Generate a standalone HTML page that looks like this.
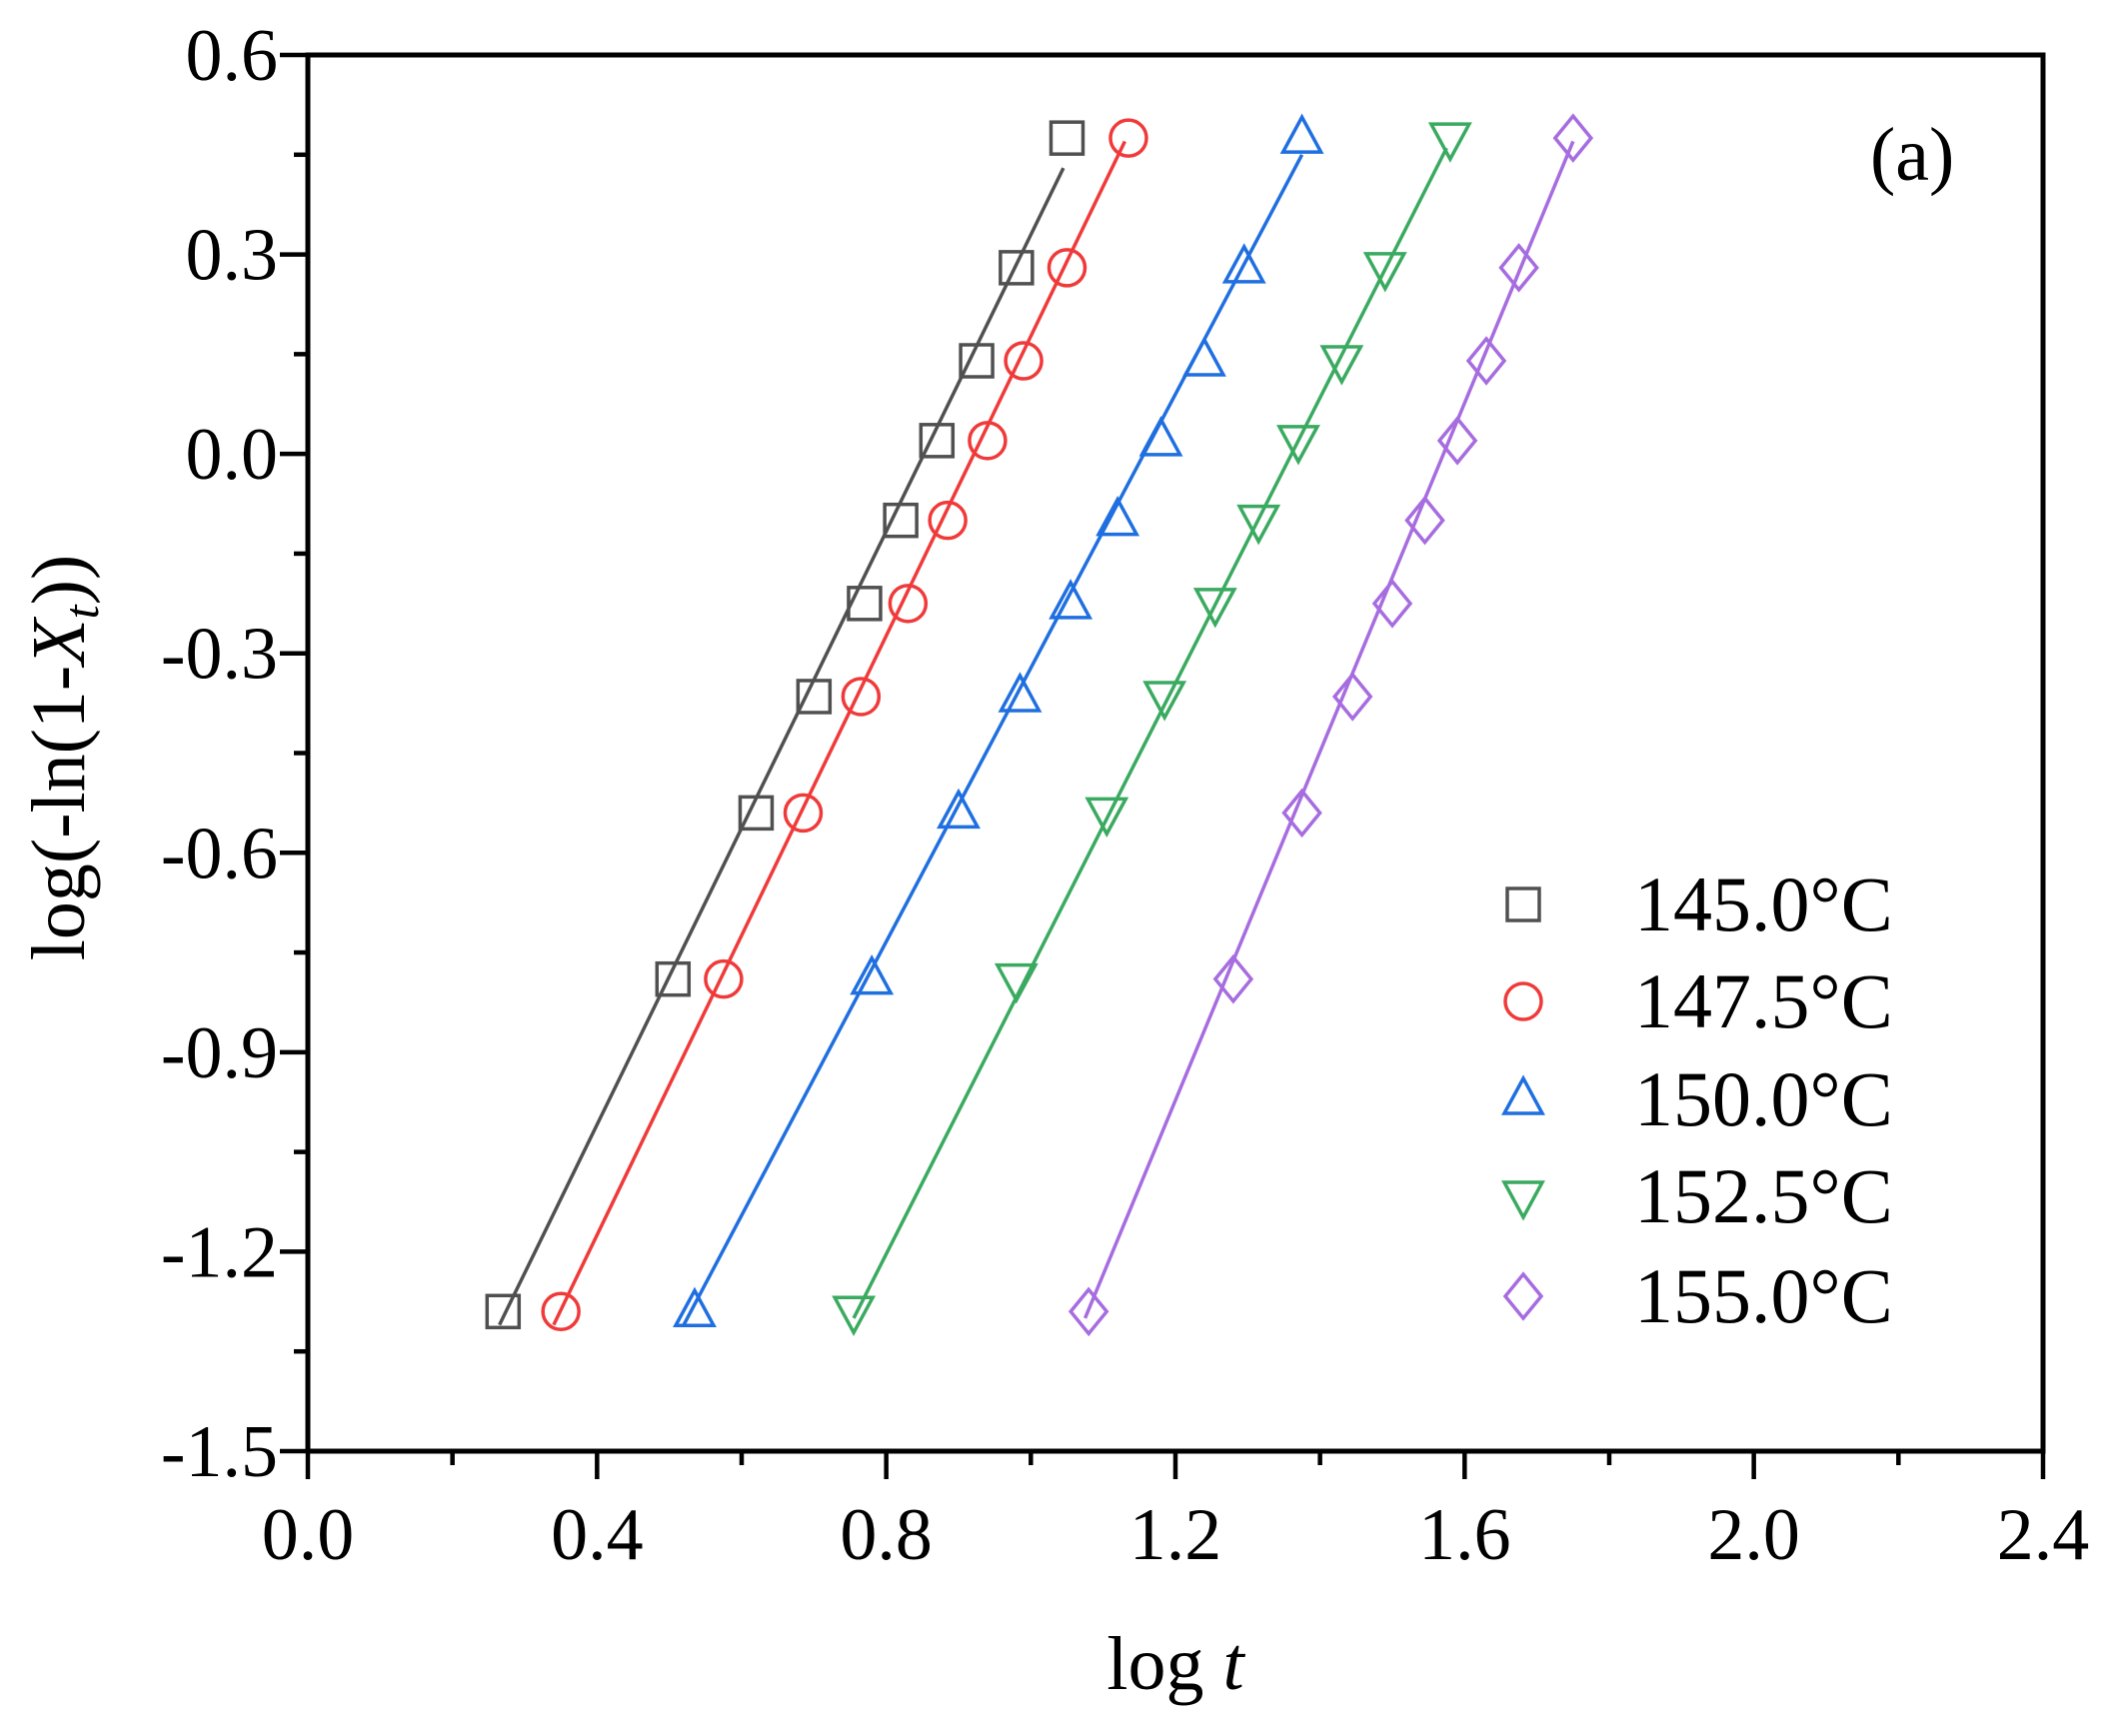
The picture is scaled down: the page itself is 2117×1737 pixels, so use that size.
<!DOCTYPE html>
<html><head><meta charset="utf-8"><style>
html,body{margin:0;padding:0;background:#fff;}
svg{display:block;font-family:"Liberation Serif",serif;}
</style></head><body>
<svg id="s" width="2117" height="1737" viewBox="0 0 2117 1737" xmlns="http://www.w3.org/2000/svg"></svg>
<script>
const s=document.getElementById('s');
const L=308,R=2044,T=55,B=1452;
const X=v=>L+v/2.4*(R-L), Y=v=>T+(0.6-v)/2.1*(B-T);
let h='';
h+=`<rect x="${L}" y="${T}" width="${R-L}" height="${B-T}" fill="none" stroke="#000" stroke-width="5"/>`;
for(let i=0;i<=12;i++){const v=i*0.2,x=X(v),len=i%2==0?28:14;
 h+=`<line x1="${x}" y1="${B}" x2="${x}" y2="${B+len}" stroke="#000" stroke-width="4.5"/>`;
 if(i%2==0)h+=`<text x="${x}" y="1560" font-size="74" text-anchor="middle">${v.toFixed(1)}</text>`;}
for(let i=0;i<=14;i++){const v=-1.5+i*0.15,y=Y(v),len=i%2==0?28:14;
 h+=`<line x1="${L}" y1="${y}" x2="${L-len}" y2="${y}" stroke="#000" stroke-width="4.5"/>`;
 if(i%2==0)h+=`<text x="278" y="${y+25}" font-size="74" text-anchor="end">${(Math.round(v*10)/10).toFixed(1)}</text>`;}
h+=`<text x="1176" y="1690" font-size="76" text-anchor="middle">log <tspan font-style="italic">t</tspan></text>`;
h+=`<text transform="translate(84,758) rotate(-90)" font-size="76" text-anchor="middle">log(-ln(1-<tspan font-style="italic">X</tspan><tspan font-style="italic" font-size="50" dy="14">t</tspan><tspan dy="-14">))</tspan></text>`;
h+=`<text x="1871" y="180" font-size="76">(a)</text>`;
const ys=[0.475,0.28,0.14,0.02,-0.1,-0.225,-0.365,-0.54,-0.79,-1.29];
const S=[
 {c:'#505050',m:'sq',x:[1.05,0.98,0.925,0.87,0.82,0.77,0.70,0.62,0.505,0.27],l:[0.265,-1.31,1.045,0.43],t:'145.0°C'},
 {c:'#f03a3a',m:'ci',x:[1.135,1.05,0.99,0.94,0.885,0.83,0.765,0.685,0.575,0.35],l:[0.34,-1.31,1.13,0.47],t:'147.5°C'},
 {c:'#1f6fe0',m:'up',x:[1.375,1.295,1.24,1.18,1.12,1.055,0.985,0.90,0.78,0.535],l:[0.52,-1.31,1.375,0.45],t:'150.0°C'},
 {c:'#3aaa60',m:'dn',x:[1.58,1.49,1.43,1.37,1.315,1.255,1.185,1.105,0.98,0.755],l:[0.755,-1.3,1.575,0.46],t:'152.5°C'},
 {c:'#a66ce0',m:'di',x:[1.75,1.675,1.63,1.59,1.545,1.50,1.445,1.375,1.28,1.08],l:[1.075,-1.3,1.75,0.47],t:'155.0°C'}];
function mk(m,x,y,c){const a='fill="none" stroke="'+c+'" stroke-width="3.5"';
 if(m=='sq')return `<rect x="${x-16}" y="${y-16}" width="32" height="32" ${a}/>`;
 if(m=='ci')return `<circle cx="${x}" cy="${y}" r="18" ${a}/>`;
 if(m=='up')return `<polygon points="${x},${y-21} ${x+19},${y+14} ${x-19},${y+14}" ${a}/>`;
 if(m=='dn')return `<polygon points="${x},${y+21} ${x+19},${y-14} ${x-19},${y-14}" ${a}/>`;
 return `<polygon points="${x},${y-22} ${x+18},${y} ${x},${y+22} ${x-18},${y}" ${a}/>`;}
const ly=[905,1002,1100,1197,1297];
S.forEach((d,k)=>{
 h+=`<line x1="${X(d.l[0])}" y1="${Y(d.l[1])}" x2="${X(d.l[2])}" y2="${Y(d.l[3])}" stroke="${d.c}" stroke-width="3.5"/>`;
 d.x.forEach((v,i)=>h+=mk(d.m,X(v),Y(ys[i]),d.c));
 h+=mk(d.m,1524,ly[k],d.c);
 h+=`<text x="1635" y="${ly[k]+26}" font-size="78">${d.t}</text>`;
});
s.innerHTML=h;
</script>
</body></html>
